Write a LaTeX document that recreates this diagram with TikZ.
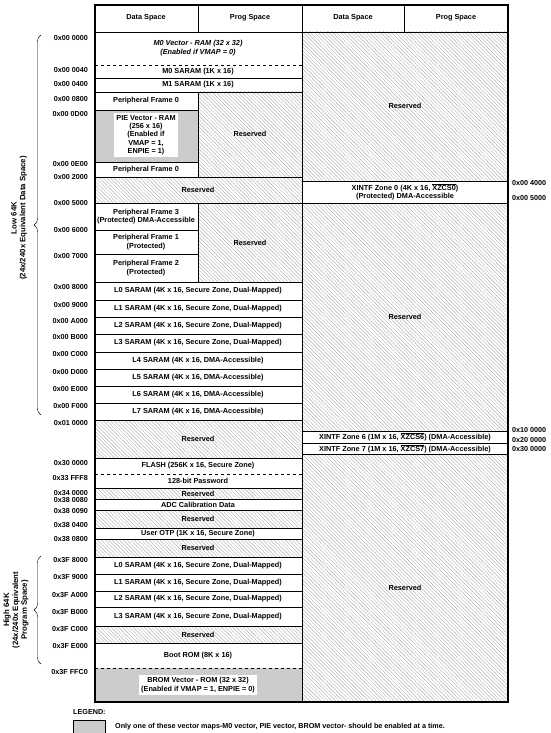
\documentclass[tikz,border=0pt]{standalone}
\usepackage{fontspec}
\setmainfont{Liberation Sans}
\usetikzlibrary{patterns.meta,decorations.pathreplacing}

\tikzset{
  hatch/.style={pattern={Lines[angle=-45, distance=2.6pt, line width=0.45pt]}, pattern color=gray!60},
  vecfill/.style={fill=gray!40},
  txt/.style={font=\fontsize{7.3}{8.3}\selectfont\bfseries, align=center, inner sep=1pt},
  addr/.style={font=\fontsize{7.2}{8.2}\selectfont\bfseries, inner sep=0pt},
  brlbl/.style={font=\fontsize{7.8}{8.8}\selectfont\bfseries, align=center, rotate=90},
  sep/.style={line width=0.5pt},
  septhick/.style={line width=0.9pt},
}

\begin{document}
\begin{tikzpicture}[x=1pt,y=-1pt]
\useasboundingbox (0,0) rectangle (550,733);

% Hatched (reserved) areas
\fill[hatch] (198,92) rectangle (302,177);
\fill[hatch] (95,177) rectangle (302,203);
\fill[hatch] (198,203) rectangle (302,282);
\fill[hatch] (95,420) rectangle (302,458);
\fill[hatch] (95,488) rectangle (302,499);
\fill[hatch] (95,510) rectangle (302,528);
\fill[hatch] (95,539) rectangle (302,557);
\fill[hatch] (95,626) rectangle (302,643);
\fill[hatch] (302,32) rectangle (508,181);
\fill[hatch] (302,203) rectangle (508,431);
\fill[hatch] (302,454) rectangle (508,702);

% Vector areas (grey)
\fill[vecfill] (95,110) rectangle (198,162);
\fill[vecfill] (95,668) rectangle (302,702);

% Separators, left half
\draw[sep] (95,32) -- (508,32);
\draw[sep, dashed] (95,65) -- (302,65);
\foreach \y in {78,92,177,203,282,300,334,369,403,420,458,488,499,510,528,539,557,574,591,607,626,643}
  \draw[sep] (95,\y) -- (302,\y);
\foreach \y in {317,352,386}
  \draw[septhick] (95,\y) -- (302,\y);
\draw[sep, dashed] (95,474) -- (302,474);
\draw[sep, dashed] (95,668) -- (302,668);
\foreach \y in {110,162,230,254}
  \draw[sep] (95,\y) -- (198,\y);
\draw[sep] (198,5) -- (198,32);
\draw[sep] (198,92) -- (198,177);
\draw[sep] (198,203) -- (198,282);

% Separators, right half
\foreach \y in {181,203,431,443,454}
  \draw[sep] (302,\y) -- (508,\y);
\draw[sep] (404,5) -- (404,32);
\draw[sep] (302,5) -- (302,702);

% Outer frame
\draw[line width=1.6pt] (95,5) rectangle (508,702);

% Headers
\node[txt] (hdata1) at (146,18) {Data Space};
\node[txt] (hprog1) at (250,18) {Prog Space};
\node[txt] (hdata2) at (353,18) {Data Space};
\node[txt] (hprog2) at (456,18) {Prog Space};

% Low 64K, left half
\node[txt, font=\fontsize{7.3}{8.3}\selectfont\bfseries\itshape] (m0vec) at (198,48) {M0 Vector - RAM (32 x 32)\\(Enabled if VMAP = 0)};
\node[txt] (m0) at (198,71.5) {M0 SARAM (1K x 16)};
\node[txt] (m1) at (198,85) {M1 SARAM (1K x 16)};
\node[txt] (pf0a) at (146,101) {Peripheral Frame 0};
\node[txt, fill=white, inner sep=2pt] (pie) at (146,135) {PIE Vector - RAM\\(256 x 16)\\(Enabled if\\VMAP = 1,\\ENPIE = 1)};
\node[txt] (res1) at (250,134) {Reserved};
\node[txt] (pf0b) at (146,169.5) {Peripheral Frame 0};
\node[txt] (res2) at (198,190) {Reserved};
\node[txt] (pf3) at (146,216.5) {Peripheral Frame 3\\(Protected) DMA-Accessible};
\node[txt] (pf1) at (146,242) {Peripheral Frame 1\\(Protected)};
\node[txt] (pf2) at (146,268) {Peripheral Frame 2\\(Protected)};
\node[txt] (res3) at (250,243) {Reserved};
\node[txt] (l0a) at (198,291) {L0 SARAM (4K x 16, Secure Zone, Dual-Mapped)};
\node[txt] (l1a) at (198,308.5) {L1 SARAM (4K x 16, Secure Zone, Dual-Mapped)};
\node[txt] (l2a) at (198,325.5) {L2 SARAM (4K x 16, Secure Zone, Dual-Mapped)};
\node[txt] (l3a) at (198,343) {L3 SARAM (4K x 16, Secure Zone, Dual-Mapped)};
\node[txt] (l4) at (198,360.5) {L4 SARAM (4K x 16, DMA-Accessible)};
\node[txt] (l5) at (198,377.5) {L5 SARAM (4K x 16, DMA-Accessible)};
\node[txt] (l6) at (198,394.5) {L6 SARAM (4K x 16, DMA-Accessible)};
\node[txt] (l7) at (198,411.5) {L7 SARAM (4K x 16, DMA-Accessible)};
\node[txt] (res4) at (198,439) {Reserved};

% Upper memory, left half
\node[txt] (flash) at (198,466) {FLASH (256K x 16, Secure Zone)};
\node[txt] (pwd) at (198,481) {128-bit Password};
\node[txt] (res5) at (198,493.5) {Reserved};
\node[txt] (adc) at (198,504.5) {ADC Calibration Data};
\node[txt] (res6) at (198,519) {Reserved};
\node[txt] (otp) at (198,533.5) {User OTP (1K x 16, Secure Zone)};
\node[txt] (res7) at (198,548) {Reserved};
\node[txt] (l0b) at (198,565.5) {L0 SARAM (4K x 16, Secure Zone, Dual-Mapped)};
\node[txt] (l1b) at (198,582.5) {L1 SARAM (4K x 16, Secure Zone, Dual-Mapped)};
\node[txt] (l2b) at (198,599) {L2 SARAM (4K x 16, Secure Zone, Dual-Mapped)};
\node[txt] (l3b) at (198,616.5) {L3 SARAM (4K x 16, Secure Zone, Dual-Mapped)};
\node[txt] (res8) at (198,634.5) {Reserved};
\node[txt] (boot) at (198,655.5) {Boot ROM (8K x 16)};
\node[txt, fill=white, inner sep=2pt] (brom) at (198,685) {BROM Vector - ROM (32 x 32)\\(Enabled if VMAP = 1, ENPIE = 0)};

% Right half
\node[txt] (res9) at (405,106) {Reserved};
\node[txt] (xz0) at (405,192) {XINTF Zone 0 (4K x 16, $\overline{\hbox{XZCS0}}$)\\(Protected) DMA-Accessible};
\node[txt] (res10) at (405,317) {Reserved};
\node[txt] (xz6) at (405,437) {XINTF Zone 6 (1M x 16, $\overline{\hbox{XZCS6}}$) (DMA-Accessible)};
\node[txt] (xz7) at (405,448.5) {XINTF Zone 7 (1M x 16, $\overline{\hbox{XZCS7}}$) (DMA-Accessible)};
\node[txt] (res11) at (405,588) {Reserved};

% Addresses, left
\foreach \a/\y [count=\i] in {0x00 0000/38, 0x00 0040/70, 0x00 0400/84, 0x00 0800/99,
    0x00 0D00/114, 0x00 0E00/164, 0x00 2000/177, 0x00 5000/203, 0x00 6000/230,
    0x00 7000/256, 0x00 8000/287, 0x00 9000/305, 0x00 A000/321, 0x00 B000/337,
    0x00 C000/354, 0x00 D000/372, 0x00 E000/389, 0x00 F000/406, 0x01 0000/423,
    0x30 0000/463, 0x33 FFF8/478, 0x34 0000/493, 0x38 0080/500, 0x38 0090/511,
    0x38 0400/525, 0x38 0800/539, 0x3F 8000/560, 0x3F 9000/577, 0x3F A000/595,
    0x3F B000/612, 0x3F C000/629, 0x3F E000/646, 0x3F FFC0/672}
  \node[addr, anchor=east] (addrL\i) at (88,\y) {\a};

% Addresses, right
\foreach \a/\y [count=\i] in {0x00 4000/183, 0x00 5000/198, 0x10 0000/430,
    0x20 0000/440, 0x30 0000/449}
  \node[addr, anchor=west] (addrR\i) at (512,\y) {\a};

% Braces
\draw[decorate, decoration={brace, amplitude=7pt}] (41,415) -- (41,35);
\node[brlbl] (low) at (19,218) {Low 64K\\(24x/240x Equivalent Data Space)};
\draw[decorate, decoration={brace, amplitude=7pt}] (41,664) -- (41,556);
\node[brlbl] (high) at (16,610) {High 64K\\(24x/240x Equivalent\\Program Space)};

% Legend
\node[addr, anchor=west] (legend) at (73,712) {LEGEND:};
\draw[sep, vecfill] (73,720) rectangle (105,733);
\node[addr, anchor=west] (legtxt) at (115,727) {Only one of these vector maps-M0 vector, PIE vector, BROM vector- should be enabled at a time.};

\end{tikzpicture}
\end{document}
